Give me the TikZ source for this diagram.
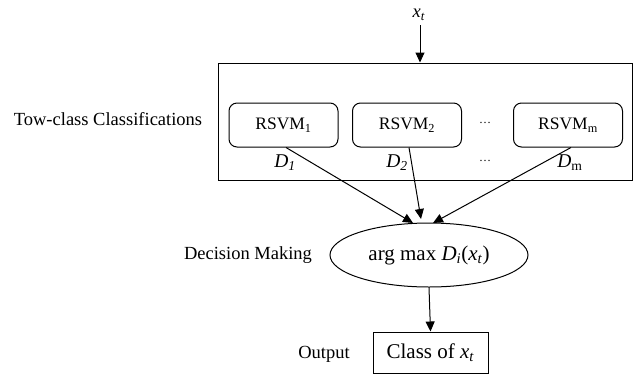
\documentclass[tikz,border=0pt]{standalone}
\usepackage{fontspec}
\setmainfont{Liberation Serif}
\usetikzlibrary{arrows.meta,shapes.geometric,calc}
\tikzset{
  lbl/.style={inner sep=0pt, font=\fontsize{18.5}{21}\selectfont},
  dlbl/.style={inner sep=0pt, font=\fontsize{19.5}{22}\selectfont},
  rsvm/.style={draw, rounded corners=8pt, minimum width=109pt, minimum height=44pt, inner sep=0pt, font=\fontsize{17.5}{20}\selectfont},
  arr/.style={-{Triangle[length=10pt,width=9pt]}}
}
\begin{document}
\begin{tikzpicture}[x=1pt,y=-1pt,line width=1pt]
\useasboundingbox (0,0) rectangle (635,376);
% outer box
\node[draw, minimum width=414pt, minimum height=117pt, inner sep=0pt] (outer) at (425,121.5) {};
\node[lbl] (xt) at (419,15) {\textit{x}\textsubscript{\textit{t}}};
\coordinate (xs) at (420,25);
\draw[arr] (xs) -- (xs |- outer.north);
% RSVM boxes
\node[rsvm] (r1) at (283.5,125) {RSVM\textsubscript{1}};
\node[rsvm] (r2) at (407,125) {RSVM\textsubscript{2}};
\node[rsvm] (rm) at (568,125) {RSVM\textsubscript{m}};
\node[lbl] (dots1) at (485,123) {\fontsize{12}{14}\selectfont\dots};
\node[lbl] (dots2) at (485,161) {\fontsize{12}{14}\selectfont\dots};
\node[dlbl] (d1) at (285,163) {\textit{D}\textsubscript{\textit{1}}};
\node[dlbl] (d2) at (397,163) {\textit{D}\textsubscript{\textit{2}}};
\node[dlbl] (dm) at (570,163) {\textit{D}\textsubscript{m}};
\node[lbl] (tow) at (108,119) {Tow-class Classifications};
% decision
\node[draw, ellipse, minimum width=198pt, minimum height=64pt, inner sep=0pt, font=\fontsize{21}{24}\selectfont] (dec) at (429,255) {arg max \textit{D}\textsubscript{\textit{i}}(\textit{x}\textsubscript{\textit{t}})};
\node[lbl] (decl) at (248,255) {Decision Making};
\coordinate (e1) at (413,223);
\coordinate (e2) at (421,219);
\coordinate (em) at (433,223);
\draw[arr] ($(r1.south)+(2.5,0)$) -- (e1);
\draw[arr] ($(r2.south)+(2,0)$) -- (e2);
\draw[arr] ($(rm.south)+(3,0)$) -- (em);
% output
\node[draw, minimum width=115pt, minimum height=41pt, inner sep=0pt, font=\fontsize{21}{24}\selectfont] (cls) at (430.5,352.5) {Class of \textit{x}\textsubscript{\textit{t}}};
\node[lbl] (outl) at (324,354) {Output};
\draw[arr] (dec.south) -- (cls.north);
\end{tikzpicture}
\end{document}
